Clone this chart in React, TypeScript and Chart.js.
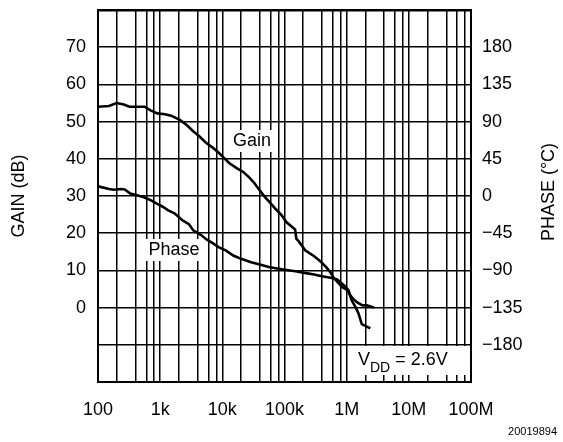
import React, { useEffect, useRef } from "react";
import { Chart, registerables } from "chart.js";

Chart.register(...registerables);

// Frequency decades and their labels
const DECADE_VALUES = [1e2, 1e3, 1e4, 1e5, 1e6, 1e7, 1e8];
const DECADE_LABELS = ["100", "1k", "10k", "100k", "1M", "10M", "100M"];
const GRID_MULTIPLIERS = [1, 2, 4, 6, 8];

// Gain curve (Hz, dB)
const gainFreq = [
  100, 150, 200, 260, 320, 450, 560, 700, 900, 1200, 1500, 2100, 2700, 3400,
  4300, 5400, 7000, 8700, 11000, 13000, 17000, 22000, 27000, 32000, 40000,
  49000, 60000, 72000, 90000, 107000, 130000, 148000, 155000, 170000, 215000,
  300000, 380000, 460000, 540000, 620000, 700000, 850000, 1000000, 1120000,
  1260000, 1500000, 1800000, 2100000, 2750000,
];
const gainDb = [
  54.0, 54.2, 55.0, 54.6, 54.0, 54.0, 54.0, 53.0, 52.2, 52.0, 51.6, 50.4, 49.0,
  47.4, 46.0, 44.4, 43.0, 41.7, 40.0, 38.8, 37.5, 36.4, 35.0, 33.7, 31.5, 29.6,
  28.0, 26.5, 24.8, 23.0, 21.8, 21.0, 18.5, 17.8, 15.4, 13.8, 12.4, 11.0, 9.6,
  8.0, 7.0, 5.5, 4.8, 3.5, 2.4, 1.3, 0.6, 0.6, 0.0,
];

// Phase curve (Hz, degrees)
const phaseFreq = [
  100, 150, 180, 230, 270, 330, 400, 560, 700, 900, 1100, 1350, 1700, 2300,
  2900, 3400, 4500, 5700, 7000, 8700, 11500, 15000, 20000, 29000, 40000, 56000,
  80000, 107000, 150000, 210000, 300000, 400000, 550000, 700000, 900000,
  1070000, 1200000, 1380000, 1550000, 1750000, 2100000, 2400000,
];
const phaseDeg = [
  11.7, 8.5, 7.6, 8.4, 7.8, 3.0, 1.5, -1.8, -5, -9.6, -13, -17.4, -21, -29.6,
  -34, -41.6, -47, -53.1, -57, -61.9, -66, -72, -76, -80, -83, -86, -88, -89.5,
  -91, -93, -95, -97, -99, -101, -108, -114, -126, -134, -142, -155, -158,
  -160,
];

const FONT = "'Liberation Sans', Arial, sans-serif";

const annotations = {
  id: "annotations",
  afterDatasetsDraw(chart: any) {
    const ctx = chart.ctx;
    ctx.save();
    ctx.fillStyle = "#000";
    ctx.textBaseline = "middle";
    ctx.textAlign = "center";
    ctx.font = `18px ${FONT}`;

    const boxed = (text: string, cx: number, cy: number) => {
      const w = ctx.measureText(text).width;
      ctx.fillStyle = "#fff";
      ctx.fillRect(cx - w / 2 - 3, cy - 11, w + 6, 22);
      ctx.fillStyle = "#000";
      ctx.fillText(text, cx, cy);
    };
    boxed("Gain", 252, 141);
    boxed("Phase", 174, 250);

    // V_DD label
    ctx.fillStyle = "#fff";
    ctx.fillRect(355, 346, 114, 29);
    ctx.fillStyle = "#000";
    ctx.textAlign = "left";
    let x = 358;
    ctx.font = `18px ${FONT}`;
    ctx.fillText("V", x, 360);
    x += ctx.measureText("V").width;
    ctx.font = `14px ${FONT}`;
    ctx.fillText("DD", x, 368);
    x += ctx.measureText("DD").width;
    ctx.font = `18px ${FONT}`;
    ctx.fillText(" = 2.6V", x, 360);
    ctx.restore();
  },
  afterDraw(chart: any) {
    const ctx = chart.ctx;
    ctx.save();
    ctx.fillStyle = "#000";
    ctx.textAlign = "center";
    ctx.textBaseline = "middle";
    ctx.font = `18px ${FONT}`;
    ctx.save();
    ctx.translate(19, 196);
    ctx.rotate(-Math.PI / 2);
    ctx.fillText("GAIN (dB)", 0, 0);
    ctx.restore();
    ctx.save();
    ctx.translate(549, 192);
    ctx.rotate(-Math.PI / 2);
    ctx.fillText("PHASE (°C)", 0, 0);
    ctx.restore();
    ctx.font = `11px ${FONT}`;
    ctx.textAlign = "right";
    ctx.fillText("20019894", 557, 432);
    ctx.restore();
  },
};

export default function App() {
  const ref = useRef<HTMLCanvasElement | null>(null);

  useEffect(() => {
    if (!ref.current) return;
    const chart = new Chart(ref.current, {
      type: "line",
      data: {
        datasets: [
          {
            label: "Gain",
            data: gainFreq.map((f, i) => ({ x: f, y: gainDb[i] })),
            yAxisID: "y",
            borderColor: "#000",
            borderWidth: 2.6,
            pointRadius: 0,
            tension: 0,
          },
          {
            label: "Phase",
            data: phaseFreq.map((f, i) => ({ x: f, y: phaseDeg[i] })),
            yAxisID: "y2",
            borderColor: "#000",
            borderWidth: 2.6,
            pointRadius: 0,
            tension: 0,
          },
        ],
      },
      options: {
        animation: false,
        responsive: false,
        layout: { padding: { top: 10, left: 0, right: 0, bottom: 0 } },
        plugins: { legend: { display: false }, tooltip: { enabled: false } },
        scales: {
          x: {
            type: "logarithmic",
            min: 1e2,
            max: 1e8,
            afterBuildTicks: (axis: any) => {
              const t: any[] = [];
              DECADE_VALUES.forEach((d, i) => {
                if (i === DECADE_VALUES.length - 1) {
                  t.push({ value: d });
                } else {
                  GRID_MULTIPLIERS.forEach((m) => t.push({ value: d * m }));
                }
              });
              axis.ticks = t;
            },
            afterFit: (axis: any) => {
              axis.height = 60;
              axis.paddingLeft = 0;
              axis.paddingRight = 0;
            },
            ticks: {
              autoSkip: false,
              maxRotation: 0,
              padding: 17,
              color: "#000",
              font: { family: FONT, size: 18 },
              callback: (value: any) => {
                const idx = DECADE_VALUES.findIndex(
                  (d) => Math.abs(d - Number(value)) / d < 1e-6
                );
                return idx >= 0 ? DECADE_LABELS[idx] : "";
              },
            },
            grid: { color: "#000", lineWidth: 1.5, drawTicks: false },
            border: { color: "#000", width: 2 },
          },
          y: {
            type: "linear",
            position: "left",
            min: -20,
            max: 80,
            afterFit: (axis: any) => {
              axis.width = 98;
              axis.paddingTop = 0;
              axis.paddingBottom = 0;
            },
            ticks: {
              stepSize: 10,
              padding: 12,
              color: "#000",
              font: { family: FONT, size: 18 },
              callback: (v: any) => (v >= 0 && v <= 70 ? String(v) : ""),
            },
            grid: {
              color: "#000",
              lineWidth: (c: any) => (c.tick && c.tick.value === 80 ? 2.5 : 1.5),
              drawTicks: false,
            },
            border: { color: "#000", width: 2 },
          },
          y2: {
            type: "linear",
            position: "right",
            min: -225,
            max: 225,
            afterFit: (axis: any) => {
              axis.width = 92;
              axis.paddingTop = 0;
              axis.paddingBottom = 0;
            },
            ticks: {
              stepSize: 45,
              padding: 11,
              color: "#000",
              font: { family: FONT, size: 18 },
              callback: (v: any) =>
                v >= -180 && v <= 180 ? String(v).replace("-", "−") : "",
            },
            grid: { drawOnChartArea: false, drawTicks: false },
            border: { color: "#000", width: 2 },
          },
        },
      },
      plugins: [annotations],
    });
    return () => chart.destroy();
  }, []);

  return (
    <div style={{ position: "absolute", left: 0, top: 0, width: 563, height: 442, background: "#fff" }}>
      <canvas ref={ref} width={563} height={442} />
    </div>
  );
}
